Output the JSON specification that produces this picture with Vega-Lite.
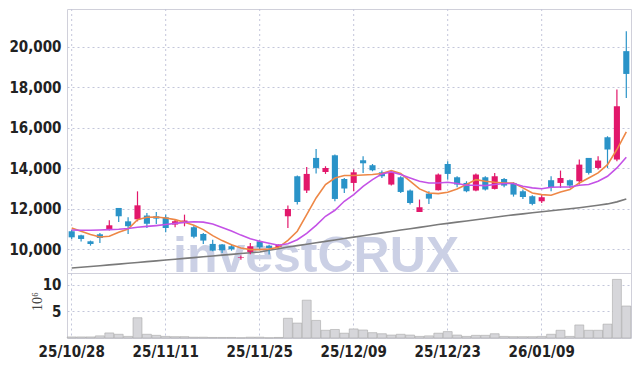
{
  "$schema": "https://vega.github.io/schema/vega-lite/v6.json",
  "padding": {"left": 5, "top": 8, "right": 9, "bottom": 5},
  "background": "white",
  "spacing": 0,
  "bounds": "flush",
  "config": {
    "concat": {"spacing": 0},
    "view": {"stroke": "#d0d0da"},
    "axis": {
      "labelFont": "Liberation Sans Narrow, DejaVu Sans Condensed, sans-serif",
      "labelFontWeight": "bold",
      "labelFontSize": 15,
      "labelColor": "#222222",
      "gridColor": "#c3c6da",
      "gridDash": [2, 3],
      "gridWidth": 1,
      "domain": false,
      "ticks": false
    }
  },
  "datasets": {
    "g": [{"d": "25/10/28"}, {"d": "25/11/11"}, {"d": "25/11/25"}, {"d": "25/12/09"}, {"d": "25/12/23"}, {"d": "26/01/09"}],
    "p": [
      {"d": "25/10/28", "o": 10890, "h": 10953, "l": 10509, "c": 10590, "m5": 11050, "m10": 10950, "m60": 9075, "v": 0.2},
      {"d": "25/10/29", "o": 10690, "h": 10720, "l": 10380, "c": 10510, "m5": 10890, "m10": 10940, "m60": 9110, "v": 0.2},
      {"d": "25/10/30", "o": 10395, "h": 10430, "l": 10180, "c": 10260, "m5": 10725, "m10": 10940, "m60": 9150, "v": 0.2},
      {"d": "25/10/31", "o": 10740, "h": 10800, "l": 10310, "c": 10560, "m5": 10610, "m10": 10950, "m60": 9190, "v": 0.4},
      {"d": "25/11/03", "o": 10973, "h": 11432, "l": 10923, "c": 11185, "m5": 10640, "m10": 10970, "m60": 9230, "v": 0.95},
      {"d": "25/11/04", "o": 12040, "h": 12040, "l": 11350, "c": 11630, "m5": 10840, "m10": 10990, "m60": 9270, "v": 0.7},
      {"d": "25/11/05", "o": 11380, "h": 11580, "l": 10755, "c": 11140, "m5": 11000, "m10": 11030, "m60": 9310, "v": 0.3},
      {"d": "25/11/06", "o": 11480, "h": 12860, "l": 11380, "c": 12170, "m5": 11465, "m10": 11090, "m60": 9350, "v": 3.8},
      {"d": "25/11/07", "o": 11665, "h": 11790, "l": 11050, "c": 11260, "m5": 11580, "m10": 11130, "m60": 9390, "v": 0.7},
      {"d": "25/11/10", "o": 11630, "h": 11840, "l": 11250, "c": 11515, "m5": 11595, "m10": 11170, "m60": 9430, "v": 0.5},
      {"d": "25/11/11", "o": 11580, "h": 11715, "l": 10840, "c": 11050, "m5": 11545, "m10": 11220, "m60": 9470, "v": 0.3},
      {"d": "25/11/12", "o": 11220, "h": 11500, "l": 11090, "c": 11385, "m5": 11465, "m10": 11280, "m60": 9510, "v": 0.25},
      {"d": "25/11/13", "o": 11333, "h": 11710, "l": 11135, "c": 11420, "m5": 11335, "m10": 11330, "m60": 9550, "v": 0.25},
      {"d": "25/11/14", "o": 11090, "h": 11200, "l": 10550, "c": 10620, "m5": 11185, "m10": 11360, "m60": 9590, "v": 0.15},
      {"d": "25/11/17", "o": 10755, "h": 10800, "l": 10260, "c": 10430, "m5": 10970, "m10": 11340, "m60": 9630, "v": 0.15},
      {"d": "25/11/18", "o": 10265, "h": 10470, "l": 9900, "c": 9935, "m5": 10675, "m10": 11250, "m60": 9670, "v": 0.1},
      {"d": "25/11/19", "o": 10240, "h": 10260, "l": 9820, "c": 9950, "m5": 10430, "m10": 11080, "m60": 9710, "v": 0.1},
      {"d": "25/11/20", "o": 10150, "h": 10250, "l": 9930, "c": 10000, "m5": 10230, "m10": 10900, "m60": 9750, "v": 0.1},
      {"d": "25/11/21", "o": 9570, "h": 9690, "l": 9490, "c": 9600, "m5": 10065, "m10": 10700, "m60": 9790, "v": 0.05},
      {"d": "25/11/24", "o": 9870, "h": 10310, "l": 9750, "c": 10150, "m5": 9985, "m10": 10520, "m60": 9830, "v": 0.15},
      {"d": "25/11/25", "o": 10395, "h": 10445, "l": 9985, "c": 10100, "m5": 9985, "m10": 10400, "m60": 9870, "v": 0.15},
      {"d": "25/11/26", "o": 10180, "h": 10230, "l": 9740, "c": 10065, "m5": 10015, "m10": 10300, "m60": 9950, "v": 0.05},
      {"d": "25/11/27", "o": 10115, "h": 10240, "l": 10100, "c": 10230, "m5": 10100, "m10": 10200, "m60": 10030, "v": 0.1},
      {"d": "25/11/28", "o": 11630, "h": 12160, "l": 11050, "c": 11990, "m5": 10445, "m10": 10270, "m60": 10110, "v": 3.7},
      {"d": "25/12/01", "o": 13605, "h": 13640, "l": 12210, "c": 12335, "m5": 10890, "m10": 10470, "m60": 10180, "v": 2.8},
      {"d": "25/12/02", "o": 12900, "h": 14065, "l": 12780, "c": 13720, "m5": 11715, "m10": 10790, "m60": 10250, "v": 7.1},
      {"d": "25/12/03", "o": 14510, "h": 14950, "l": 13740, "c": 14015, "m5": 12535, "m10": 11185, "m60": 10320, "v": 3.3},
      {"d": "25/12/04", "o": 13815, "h": 14100, "l": 13720, "c": 14015, "m5": 13195, "m10": 11630, "m60": 10390, "v": 1.45},
      {"d": "25/12/05", "o": 14640, "h": 14675, "l": 12370, "c": 12485, "m5": 13520, "m10": 11925, "m60": 10460, "v": 1.6},
      {"d": "25/12/08", "o": 13470, "h": 13520, "l": 12780, "c": 13000, "m5": 13640, "m10": 12370, "m60": 10530, "v": 0.9},
      {"d": "25/12/09", "o": 13275, "h": 13935, "l": 12865, "c": 13800, "m5": 13640, "m10": 12700, "m60": 10600, "v": 1.7},
      {"d": "25/12/10", "o": 14395, "h": 14590, "l": 13770, "c": 14245, "m5": 13670, "m10": 13110, "m60": 10670, "v": 1.5},
      {"d": "25/12/11", "o": 14150, "h": 14210, "l": 13850, "c": 13900, "m5": 13690, "m10": 13440, "m60": 10740, "v": 1.0},
      {"d": "25/12/12", "o": 13800, "h": 13885, "l": 13520, "c": 13605, "m5": 13740, "m10": 13720, "m60": 10810, "v": 0.8},
      {"d": "25/12/15", "o": 13195, "h": 13885, "l": 13145, "c": 13800, "m5": 13885, "m10": 13820, "m60": 10880, "v": 0.55},
      {"d": "25/12/16", "o": 13555, "h": 13605, "l": 12780, "c": 12830, "m5": 13740, "m10": 13690, "m60": 10950, "v": 0.7},
      {"d": "25/12/17", "o": 12900, "h": 12950, "l": 12210, "c": 12285, "m5": 13360, "m10": 13520, "m60": 11010, "v": 0.55},
      {"d": "25/12/18", "o": 11840, "h": 12455, "l": 11840, "c": 12075, "m5": 12980, "m10": 13360, "m60": 11080, "v": 0.3},
      {"d": "25/12/19", "o": 12750, "h": 12865, "l": 12240, "c": 12500, "m5": 12780, "m10": 13275, "m60": 11150, "v": 0.4},
      {"d": "25/12/22", "o": 12915, "h": 13740, "l": 12900, "c": 13690, "m5": 12750, "m10": 13275, "m60": 11220, "v": 0.9},
      {"d": "25/12/23", "o": 14210, "h": 14345, "l": 13440, "c": 13720, "m5": 12815, "m10": 13310, "m60": 11280, "v": 1.2},
      {"d": "25/12/24", "o": 13555, "h": 13605, "l": 13060, "c": 13195, "m5": 12980, "m10": 13245, "m60": 11340, "v": 0.55},
      {"d": "25/12/26", "o": 13275, "h": 13360, "l": 12815, "c": 12865, "m5": 13195, "m10": 13160, "m60": 11400, "v": 0.3},
      {"d": "25/12/29", "o": 12900, "h": 13740, "l": 12865, "c": 13690, "m5": 13440, "m10": 13160, "m60": 11460, "v": 0.5},
      {"d": "25/12/30", "o": 13555, "h": 13605, "l": 12900, "c": 12950, "m5": 13360, "m10": 13145, "m60": 11520, "v": 0.5},
      {"d": "26/01/02", "o": 12980, "h": 13770, "l": 12950, "c": 13605, "m5": 13310, "m10": 13195, "m60": 11580, "v": 0.8},
      {"d": "26/01/05", "o": 13470, "h": 13520, "l": 13060, "c": 13145, "m5": 13275, "m10": 13245, "m60": 11640, "v": 0.3},
      {"d": "26/01/06", "o": 13275, "h": 13310, "l": 12600, "c": 12700, "m5": 13275, "m10": 13245, "m60": 11700, "v": 0.25},
      {"d": "26/01/07", "o": 12865, "h": 12950, "l": 12480, "c": 12580, "m5": 13030, "m10": 13110, "m60": 11750, "v": 0.25},
      {"d": "26/01/08", "o": 12620, "h": 12665, "l": 12170, "c": 12240, "m5": 12780, "m10": 13030, "m60": 11800, "v": 0.25},
      {"d": "26/01/09", "o": 12370, "h": 12700, "l": 12285, "c": 12570, "m5": 12700, "m10": 12990, "m60": 11850, "v": 0.3},
      {"d": "26/01/12", "o": 13410, "h": 13605, "l": 12865, "c": 13075, "m5": 12665, "m10": 13060, "m60": 11900, "v": 0.7},
      {"d": "26/01/13", "o": 13275, "h": 13885, "l": 13025, "c": 13520, "m5": 12830, "m10": 13075, "m60": 11950, "v": 1.45},
      {"d": "26/01/14", "o": 13410, "h": 13440, "l": 13025, "c": 13145, "m5": 12950, "m10": 13075, "m60": 12000, "v": 0.3},
      {"d": "26/01/15", "o": 13360, "h": 14430, "l": 13195, "c": 14180, "m5": 13275, "m10": 13160, "m60": 12050, "v": 2.45},
      {"d": "26/01/16", "o": 14510, "h": 14510, "l": 13690, "c": 13770, "m5": 13520, "m10": 13195, "m60": 12110, "v": 1.45},
      {"d": "26/01/19", "o": 14015, "h": 14590, "l": 13935, "c": 14380, "m5": 13770, "m10": 13360, "m60": 12170, "v": 1.45},
      {"d": "26/01/20", "o": 15530, "h": 15580, "l": 14015, "c": 14925, "m5": 14180, "m10": 13605, "m60": 12240, "v": 2.6},
      {"d": "26/01/21", "o": 14430, "h": 17890, "l": 14345, "c": 17060, "m5": 14925, "m10": 14015, "m60": 12340, "v": 11.0},
      {"d": "26/01/22", "o": 19780, "h": 20765, "l": 17470, "c": 18655, "m5": 15790, "m10": 14545, "m60": 12480, "v": 6.0}
    ]
  },
  "vconcat": [
    {
      "width": 564,
      "height": 264,
      "data": {"name": "p"},
      "encoding": {
        "x": {
          "field": "d",
          "type": "ordinal",
          "scale": {"paddingInner": 0, "paddingOuter": 0},
          "axis": null
        }
      },
      "layer": [
        {
          "data": {"name": "g"},
          "mark": {"type": "rule", "color": "#c3c6da", "strokeDash": [2, 3], "strokeWidth": 1},
          "encoding": {"x": {"field": "d", "type": "ordinal", "bandPosition": 0.5, "axis": null}}
        },
        {
          "data": {"values": [{"d": "25/12/03", "p": 8900, "t": "investCRUX"}]},
          "mark": {"type": "text", "font": "Liberation Sans", "fontWeight": "bold", "fontSize": 50, "color": "#cbd0e5", "baseline": "alphabetic", "align": "center"},
          "encoding": {
            "y": {"field": "p", "type": "quantitative", "title": null},
            "text": {"field": "t"}
          }
        },
        {
          "mark": {"type": "line", "color": "#7a7a7a", "strokeWidth": 1.6},
          "encoding": {"y": {"field": "m60", "type": "quantitative", "title": null}}
        },
        {
          "mark": {"type": "rule", "strokeWidth": 1.2},
          "encoding": {
            "y": {
              "field": "l",
              "type": "quantitative",
              "title": null,
              "scale": {"domain": [8830, 21860], "nice": false, "zero": false},
              "axis": {
                "values": [10000, 12000, 14000, 16000, 18000, 20000],
                "labelExpr": "format(datum.value, ',')",
                "labelPadding": 6,
                "minExtent": 61,
                "maxExtent": 61,
                "grid": true
              }
            },
            "y2": {"field": "h"},
            "color": {"condition": {"test": "datum.c > datum.o", "value": "#e2176b"}, "value": "#2a93c8"}
          }
        },
        {
          "mark": {"type": "bar", "width": {"band": 0.65}},
          "encoding": {
            "y": {"field": "o", "type": "quantitative", "title": null},
            "y2": {"field": "c"},
            "color": {"condition": {"test": "datum.c > datum.o", "value": "#e2176b"}, "value": "#2a93c8"}
          }
        },
        {
          "mark": {"type": "line", "color": "#ee8746", "strokeWidth": 1.6},
          "encoding": {"y": {"field": "m5", "type": "quantitative", "title": null}}
        },
        {
          "mark": {"type": "line", "color": "#c452e6", "strokeWidth": 1.6},
          "encoding": {"y": {"field": "m10", "type": "quantitative", "title": null}}
        }
      ]
    },
    {
      "width": 564,
      "height": 65,
      "data": {"name": "p"},
      "mark": {"type": "bar", "width": {"band": 0.95}, "color": "#d6d6da", "stroke": "#a8a8a8", "strokeWidth": 0.6},
      "encoding": {
        "x": {
          "field": "d",
          "type": "ordinal",
          "scale": {"paddingInner": 0, "paddingOuter": 0},
          "axis": {
            "title": null,
            "grid": true,
            "bandPosition": 0.5,
            "labelAngle": 0,
            "labelPadding": 6,
            "values": ["25/10/28", "25/11/11", "25/11/25", "25/12/09", "25/12/23", "26/01/09"]
          }
        },
        "y": {
          "field": "v",
          "type": "quantitative",
          "scale": {"domain": [0, 12.2], "nice": false},
          "axis": {
            "values": [5, 10],
            "title": "10⁶",
            "titleFont": "Liberation Serif",
            "titleFontWeight": "normal",
            "titleFontSize": 14,
            "titleColor": "#444444",
            "titleX": -30,
            "titleY": 28,
            "titleBaseline": "middle",
            "labelPadding": 6,
            "minExtent": 61,
            "maxExtent": 61,
            "grid": true
          }
        }
      }
    }
  ]
}
